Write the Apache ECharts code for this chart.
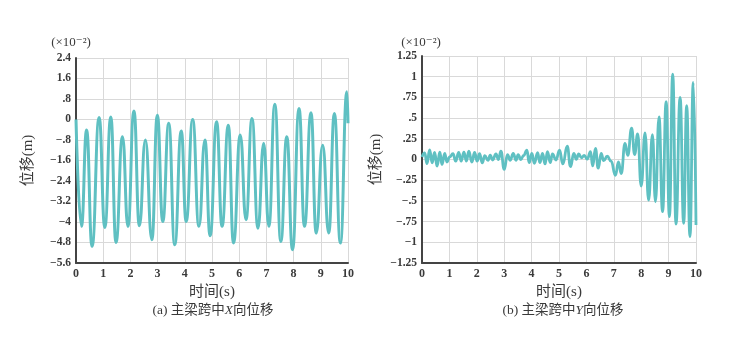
<!DOCTYPE html>
<html><head><meta charset="utf-8">
<script src="https://cdn.jsdelivr.net/npm/echarts@6/dist/echarts.min.js"></script>
<style>html,body{margin:0;padding:0;background:#fff}#c{width:738px;height:355px}</style>
</head><body><div id="c"></div>
<script>
// (a) X-direction displacement, x10^-2 m
const timeA = [0, 0.2, 0.39, 0.59, 0.85, 1.06, 1.28, 1.47, 1.71, 1.91, 2.13, 2.33, 2.55, 2.79, 2.99, 3.19, 3.41, 3.63, 3.87, 4.05, 4.29, 4.52, 4.74, 4.93, 5.17, 5.37, 5.6, 5.79, 6.04, 6.25, 6.47, 6.69, 6.9, 7.09, 7.31, 7.53, 7.75, 7.96, 8.2, 8.4, 8.64, 8.83, 9.07, 9.29, 9.5, 9.72, 9.96, 10];
const dispA = [0.0, -4.17, -0.41, -4.95, 0.08, -4.21, 0.1, -4.8, -0.67, -4.17, 0.33, -4.15, -0.8, -4.69, 0.17, -3.98, -0.15, -4.89, -0.45, -3.98, 0.0, -4.17, -0.8, -4.54, -0.09, -4.17, -0.22, -4.82, -0.6, -3.91, 0.04, -4.24, -0.93, -4.17, 0.6, -4.76, -0.67, -5.08, 0.43, -4.17, 0.26, -4.43, -1.0, -4.43, 0.23, -4.82, 1.08, -0.15];

// (b) Y-direction displacement, x10^-2 m
const timeB = [0, 0.1, 0.18, 0.28, 0.37, 0.46, 0.55, 0.65, 0.73, 0.83, 0.91, 1.01, 1.13, 1.23, 1.34, 1.43, 1.53, 1.62, 1.71, 1.82, 1.92, 2.01, 2.10, 2.20, 2.29, 2.41,
  2.49, 2.58, 2.70, 2.79, 2.88, 3.0, 3.12, 3.22, 3.33, 3.43, 3.51, 3.61, 3.71, 3.83, 3.91, 4.01, 4.10, 4.22, 4.30, 4.40, 4.49, 4.58, 4.68, 4.76, 4.89,
  5.02, 5.14, 5.30, 5.42, 5.54, 5.63, 5.72, 5.82, 5.92, 6.03, 6.15, 6.23, 6.33, 6.43, 6.54, 6.63, 6.76, 6.9,
  7.06, 7.17, 7.27, 7.41, 7.51, 7.65, 7.76, 7.87, 8.0, 8.14, 8.27, 8.41, 8.52, 8.65, 8.78, 8.91, 9.03, 9.15, 9.27, 9.42, 9.55, 9.66, 9.78, 9.90, 10.0];
const dispB = [0.03, 0.08, -0.05, 0.115, -0.04, 0.085, -0.08, 0.09, -0.06, 0.075, -0.03, 0.03, 0.07, -0.02, 0.085, -0.02, 0.09, -0.02, 0.1, -0.03, 0.085, -0.02, 0.07, -0.04, 0.045, -0.01,
  0.054, -0.006, 0.067, 0.0, 0.1, -0.12, 0.06, -0.01, 0.075, -0.01, 0.06, 0.0, 0.05, 0.114, -0.038, 0.075, -0.046, 0.083, -0.038, 0.075, -0.054, 0.095, -0.038, 0.067, -0.006,
  0.114, -0.054, 0.16, -0.086, 0.075, 0.002, 0.067, 0.02, 0.05, 0.005, 0.095, -0.078, 0.135, -0.105, 0.075, -0.014, 0.04, -0.02,
  -0.19, -0.03, -0.17, 0.195, 0.05, 0.38, 0.06, 0.31, -0.32, 0.32, -0.49, 0.30, -0.51, 0.515, -0.63, 0.70, -0.69, 1.03, -0.78, 0.75, -0.77, 0.65, -0.93, 0.93, -0.79];

const xTicks = [0, 1, 2, 3, 4, 5, 6, 7, 8, 9, 10];
const yTicksA = [-5.6, -4.8, -4, -3.2, -2.4, -1.6, -0.8, 0, 0.8, 1.6, 2.4];
const yLabelsA = ['−5.6', '−4.8', '−4', '−3.2', '−2.4', '−1.6', '−.8', '0', '.8', '1.6', '2.4'];
const yTicksB = [-1.25, -1, -0.75, -0.5, -0.25, 0, 0.25, 0.5, 0.75, 1, 1.25];
const yLabelsB = ['−1.25', '−1', '−.75', '−.5', '−.25', '0', '.25', '.5', '.75', '1', '1.25'];

const xName = '时间(s)';
const yName = '位移(m)';
const unitLabel = '(×10⁻²)';
const captionA = ['(a) 主梁跨中', 'X', '向位移'];
const captionB = ['(b) 主梁跨中', 'Y', '向位移'];

const FONT = '"Liberation Serif","DejaVu Serif","Noto Sans CJK SC",serif';
const TXT = '#3a3a3a';
const LINE = '#5fc0c2';

function lookup(ticks, labels) {
  return function (v) {
    for (let i = 0; i < ticks.length; i++) if (Math.abs(ticks[i] - v) < 1e-6) return labels[i];
    return '';
  };
}
function pairs(t, v) { return t.map((x, i) => [x, v[i]]); }

function xAxisCfg(idx) {
  return {
    gridIndex: idx, type: 'value', min: xTicks[0], max: xTicks[xTicks.length - 1], interval: 1,
    name: xName, nameLocation: 'middle', nameGap: 18,
    nameTextStyle: { fontFamily: FONT, fontSize: 15, color: TXT },
    axisLine: { show: true, onZero: false, lineStyle: { color: '#444', width: 2 } },
    axisTick: { show: false },
    axisLabel: { fontFamily: FONT, fontSize: 12, color: TXT, margin: 5, fontWeight: 'bold' },
    splitLine: { show: true, lineStyle: { color: '#d9d9d9', width: 1 } }
  };
}
function yAxisCfg(idx, ticks, labels, gap) {
  return {
    gridIndex: idx, type: 'value', min: ticks[0], max: ticks[ticks.length - 1], interval: ticks[1] - ticks[0],
    name: yName, nameLocation: 'middle', nameGap: gap, nameRotate: 90,
    nameTextStyle: { fontFamily: FONT, fontSize: 15, color: TXT },
    axisLine: { show: true, onZero: false, lineStyle: { color: '#444', width: 2 } },
    axisTick: { show: false },
    axisLabel: { fontFamily: FONT, fontSize: 11.5, color: TXT, margin: 5, fontWeight: 'bold', formatter: lookup(ticks, labels) },
    splitLine: { show: true, lineStyle: { color: '#d9d9d9', width: 1 } }
  };
}
function captionText(parts, cx) {
  return {
    type: 'text', x: cx, y: 310,
    style: {
      text: '{n|' + parts[0] + '}{i|' + parts[1] + '}{n|' + parts[2] + '}',
      align: 'center', verticalAlign: 'middle', textAlign: 'center', textVerticalAlign: 'middle',
      rich: {
        n: { fontFamily: FONT, fontSize: 13.5, color: TXT, fill: TXT },
        i: { fontFamily: FONT, fontSize: 13.5, fontStyle: 'italic', color: TXT, fill: TXT }
      }
    }
  };
}
function unitText(cx) {
  return {
    type: 'text', x: cx, y: 43,
    style: { text: unitLabel, font: '13px ' + FONT, fill: TXT, align: 'center', verticalAlign: 'middle', textAlign: 'center', textVerticalAlign: 'middle' }
  };
}

const chart = echarts.init(document.getElementById('c'), null, { renderer: 'canvas' });
chart.setOption({
  animation: false,
  backgroundColor: '#fff',
  grid: [
    { left: 76, top: 58, width: 272, height: 205 },
    { left: 422, top: 56, width: 274, height: 207 }
  ],
  xAxis: [xAxisCfg(0), xAxisCfg(1)],
  yAxis: [yAxisCfg(0, yTicksA, yLabelsA, 40), yAxisCfg(1, yTicksB, yLabelsB, 38)],
  series: [
    { type: 'line', xAxisIndex: 0, yAxisIndex: 0, data: pairs(timeA, dispA), smooth: 0.5, smoothMonotone: 'x',
      showSymbol: false, lineStyle: { color: LINE, width: 3 } },
    { type: 'line', xAxisIndex: 1, yAxisIndex: 1, data: pairs(timeB, dispB), smooth: 0.5, smoothMonotone: 'x',
      showSymbol: false, lineStyle: { color: LINE, width: 2.8 } }
  ],
  graphic: [
    unitText(71), unitText(421),
    captionText(captionA, 213), captionText(captionB, 563)
  ]
});
</script>
</body></html>
